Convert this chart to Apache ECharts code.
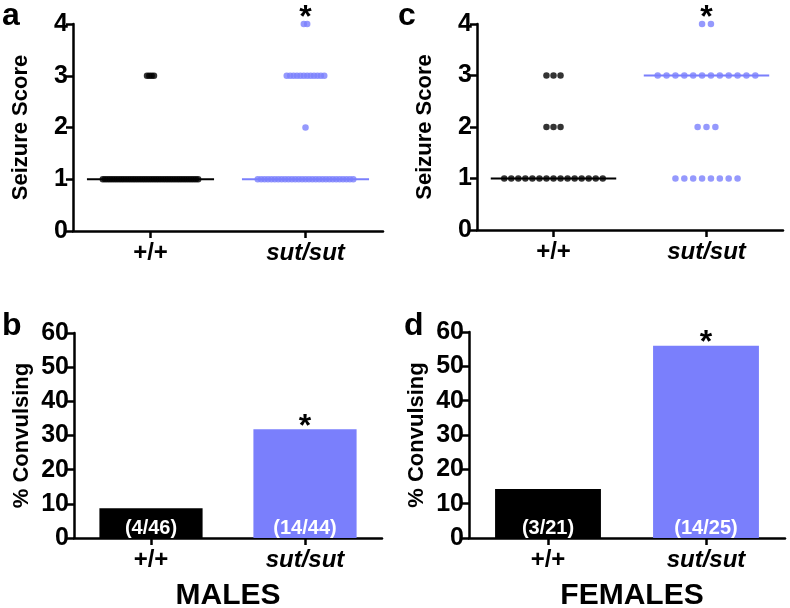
<!DOCTYPE html>
<html>
<head>
<meta charset="utf-8">
<script src="https://cdn.jsdelivr.net/npm/echarts@6/dist/echarts.min.js"></script>
<style>html,body{margin:0;padding:0;background:#fff}#c{width:790px;height:608px}</style>
</head>
<body>
<div id="c"></div>
<script>
// ---- data ----
const genotypes = ['+/+', 'sut/sut'];
const scoreLevels = [0, 1, 2, 3, 4];
// number of animals at each seizure score (index = score 0..4)
const malesWTCounts = [0, 42, 0, 4, 0];
const malesSutCounts = [0, 29, 1, 12, 2];
const femalesWTCounts = [0, 15, 3, 3, 0];
const femalesSutCounts = [0, 8, 3, 12, 2];
// convulsing animals / total animals
const malesConvulsing = [4, 14];
const malesTotal = [46, 44];
const femalesConvulsing = [3, 14];
const femalesTotal = [21, 25];
const yTicksScore = [0, 1, 2, 3, 4];
const yTicksPct = [0, 10, 20, 30, 40, 50, 60];

// ---- styles ----
const FONT = "'Liberation Sans', Arial, sans-serif";
const BLUE = '#7a7ffc';
const BLACK = '#000';
const AX = 2.5;

function medianOf(counts) {
  const vals = [];
  counts.forEach((c, s) => { for (let i = 0; i < c; i++) vals.push(scoreLevels[s]); });
  vals.sort((a, b) => a - b);
  const n = vals.length;
  return n % 2 ? vals[(n - 1) / 2] : (vals[n / 2 - 1] + vals[n / 2]) / 2;
}
function dots(counts, cat, step) {
  const pts = [];
  counts.forEach((c, s) => {
    for (let i = 0; i < c; i++) pts.push([cat + (i - (c - 1) / 2) * step, scoreLevels[s]]);
  });
  return pts;
}

const catAxis = (gi) => ({
  type: 'category', gridIndex: gi, data: [
    { value: genotypes[0] },
    { value: genotypes[1], textStyle: { fontStyle: 'italic' } }
  ],
  boundaryGap: true,
  axisLine: { show: true, onZero: false, lineStyle: { color: BLACK, width: AX } },
  axisTick: { show: true, alignWithLabel: true, length: 7, lineStyle: { color: BLACK, width: AX } },
  axisLabel: { fontFamily: FONT, fontWeight: 'bold', fontSize: 24, color: BLACK, margin: 10 },
  splitLine: { show: false }
});
const hiddenX = (gi) => ({ type: 'value', gridIndex: gi, min: -0.5, max: 1.5, show: false });
const yAxisDef = (gi, name, ticks, interval) => ({
  type: 'value', gridIndex: gi, min: ticks[0], max: ticks[ticks.length - 1], interval: interval,
  name: name, nameLocation: 'middle', nameGap: 41,
  nameTextStyle: { fontFamily: FONT, fontWeight: 'bold', fontSize: 22, color: BLACK },
  axisLine: { show: true, onZero: false, lineStyle: { color: BLACK, width: AX } },
  axisTick: { show: true, length: 7, lineStyle: { color: BLACK, width: AX } },
  axisLabel: { fontFamily: FONT, fontWeight: 'bold', fontSize: 25, color: BLACK, margin: 5 },
  splitLine: { show: false }
});

const starLabel = (dist) => ({
  show: true, formatter: '*', position: 'top', distance: dist,
  fontFamily: FONT, fontWeight: 'bold', fontSize: 32, color: BLACK
});

function scatterPanel(xi, yi, counts, cat, step, color, star) {
  return [{
    type: 'scatter', xAxisIndex: xi, yAxisIndex: yi, symbolSize: 6.5,
    itemStyle: { color: color }, data: dots(counts, cat, step), z: 3,
    markPoint: star ? {
      symbol: 'circle', symbolSize: 1, itemStyle: { color: 'rgba(0,0,0,0)' },
      label: starLabel(-11),
      data: [{ coord: [cat, 4] }]
    } : undefined
  }, {
    type: 'line', xAxisIndex: xi, yAxisIndex: yi, symbol: 'none', silent: true, z: 2,
    lineStyle: { color: color, width: 2 },
    data: [[cat - 0.41, medianOf(counts)], [cat + 0.41, medianOf(counts)]]
  }];
}
function barPanel(xi, yi, conv, tot) {
  const pct = conv.map((c, i) => c / tot[i] * 100);
  return {
    type: 'bar', xAxisIndex: xi, yAxisIndex: yi, barWidth: '67%',
    data: pct.map((v, i) => ({ value: v, itemStyle: { color: i === 0 ? BLACK : BLUE } })),
    label: {
      show: true, position: 'insideBottom', distance: 0,
      formatter: p => '(' + conv[p.dataIndex] + '/' + tot[p.dataIndex] + ')',
      fontFamily: FONT, fontWeight: 'bold', fontSize: 20, color: '#fff'
    },
    markPoint: {
      symbol: 'circle', symbolSize: 1, itemStyle: { color: 'rgba(0,0,0,0)' },
      label: starLabel(-14),
      data: [{ coord: [1, pct[1]] }]
    }
  };
}

const chart = echarts.init(document.getElementById('c'));
chart.setOption({
  animation: false,
  backgroundColor: '#fff',
  grid: [
    { left: 73, right: 407, top: 24, bottom: 377 },
    { left: 477, right: 7, top: 24, bottom: 378 },
    { left: 74, right: 408, top: 333, bottom: 70 },
    { left: 469, right: 5, top: 332, bottom: 70 }
  ],
  xAxis: [catAxis(0), hiddenX(0), catAxis(1), hiddenX(1), catAxis(2), catAxis(3)],
  yAxis: [
    yAxisDef(0, 'Seizure Score', yTicksScore, 1),
    yAxisDef(1, 'Seizure Score', yTicksScore, 1),
    yAxisDef(2, '% Convulsing', yTicksPct, 10),
    yAxisDef(3, '% Convulsing', yTicksPct, 10)
  ],
  series: [
    ...scatterPanel(1, 0, malesWTCounts, 0, 0.015, BLACK, false),
    ...scatterPanel(1, 0, malesSutCounts, 1, 0.022, BLUE, true),
    ...scatterPanel(3, 1, femalesWTCounts, 0, 0.046, BLACK, false),
    ...scatterPanel(3, 1, femalesSutCounts, 1, 0.058, BLUE, true),
    barPanel(4, 2, malesConvulsing, malesTotal),
    barPanel(5, 3, femalesConvulsing, femalesTotal)
  ],
  graphic: [
    { type: 'text', left: 2, top: 0, style: { text: 'a', font: "bold 32px 'Liberation Sans', Arial, sans-serif", fill: BLACK } },
    { type: 'text', left: 2, top: 310, style: { text: 'b', font: "bold 32px 'Liberation Sans', Arial, sans-serif", fill: BLACK } },
    { type: 'text', left: 398, top: 0, style: { text: 'c', font: "bold 32px 'Liberation Sans', Arial, sans-serif", fill: BLACK } },
    { type: 'text', left: 404, top: 310, style: { text: 'd', font: "bold 32px 'Liberation Sans', Arial, sans-serif", fill: BLACK } },
    { type: 'text', x: 228, y: 581, style: { text: 'MALES', textAlign: 'center', font: "bold 30px 'Liberation Sans', Arial, sans-serif", fill: BLACK } },
    { type: 'text', x: 632, y: 581, style: { text: 'FEMALES', textAlign: 'center', font: "bold 30px 'Liberation Sans', Arial, sans-serif", fill: BLACK } }
  ]
});
</script>
</body>
</html>
